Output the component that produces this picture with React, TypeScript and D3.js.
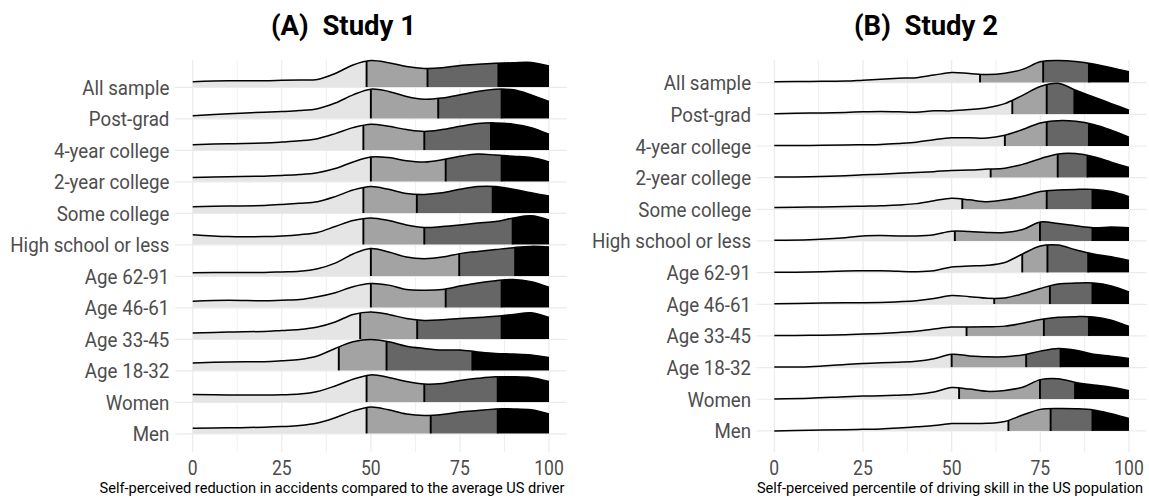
import React from 'react';
import * as d3 from 'd3';

// rows, top to bottom
const categories = [
    'All sample', 'Post-grad', '4-year college', '2-year college', 'Some college', 'High school or less',
    'Age 62-91', 'Age 46-61', 'Age 33-45', 'Age 18-32', 'Women', 'Men',
];

// x positions at which the ridge heights were read
const xGrid = [0, 10, 20, 25, 30, 35, 40, 45, 50, 55, 60, 65, 70, 75, 80, 85, 90, 95, 100];
const xTicks = [0, 25, 50, 75, 100];
const xMinor = [12.5, 37.5, 62.5, 87.5];

// ridge heights (1 = one row step)
const study1Density: number[][] = [
    [0.18, 0.21, 0.21, 0.22, 0.23, 0.25, 0.44, 0.71, 0.85, 0.78, 0.66, 0.60, 0.62, 0.69, 0.73, 0.76, 0.78, 0.79, 0.68],
    [0.10, 0.16, 0.21, 0.23, 0.26, 0.32, 0.50, 0.76, 0.94, 0.87, 0.71, 0.62, 0.66, 0.76, 0.87, 0.94, 0.92, 0.76, 0.55],
    [0.18, 0.21, 0.23, 0.26, 0.30, 0.37, 0.53, 0.72, 0.83, 0.76, 0.66, 0.60, 0.66, 0.76, 0.85, 0.87, 0.83, 0.72, 0.51],
    [0.14, 0.16, 0.18, 0.20, 0.23, 0.29, 0.42, 0.63, 0.79, 0.77, 0.67, 0.63, 0.70, 0.81, 0.88, 0.85, 0.81, 0.77, 0.63],
    [0.21, 0.23, 0.25, 0.28, 0.32, 0.37, 0.53, 0.74, 0.85, 0.76, 0.63, 0.60, 0.65, 0.76, 0.85, 0.85, 0.76, 0.65, 0.55],
    [0.32, 0.26, 0.26, 0.28, 0.32, 0.39, 0.58, 0.77, 0.85, 0.77, 0.63, 0.55, 0.58, 0.63, 0.69, 0.74, 0.85, 0.92, 0.79],
    [0.11, 0.12, 0.12, 0.14, 0.16, 0.24, 0.42, 0.71, 0.88, 0.77, 0.61, 0.56, 0.61, 0.72, 0.79, 0.85, 0.91, 0.95, 0.93],
    [0.21, 0.24, 0.22, 0.24, 0.26, 0.35, 0.48, 0.67, 0.77, 0.72, 0.58, 0.56, 0.58, 0.69, 0.79, 0.86, 0.90, 0.83, 0.65],
    [0.20, 0.23, 0.25, 0.28, 0.31, 0.39, 0.55, 0.79, 0.87, 0.79, 0.66, 0.60, 0.62, 0.66, 0.69, 0.73, 0.79, 0.84, 0.69],
    [0.25, 0.28, 0.29, 0.32, 0.36, 0.47, 0.71, 0.92, 0.99, 0.92, 0.78, 0.71, 0.66, 0.66, 0.60, 0.55, 0.53, 0.50, 0.42],
    [0.25, 0.23, 0.23, 0.24, 0.26, 0.34, 0.52, 0.73, 0.87, 0.79, 0.66, 0.58, 0.60, 0.69, 0.76, 0.81, 0.81, 0.78, 0.66],
    [0.18, 0.19, 0.21, 0.23, 0.26, 0.34, 0.51, 0.72, 0.85, 0.76, 0.63, 0.58, 0.61, 0.69, 0.74, 0.79, 0.79, 0.76, 0.63],
];

const study1Quartiles: number[][] = [
    [48.8, 65.9, 85.8],
    [50.0, 68.9, 86.7],
    [47.9, 65.0, 83.7],
    [50.0, 71.0, 86.7],
    [47.9, 62.9, 84.2],
    [47.9, 65.0, 89.8],
    [50.0, 74.8, 90.5],
    [50.0, 71.0, 86.7],
    [47.0, 63.0, 86.7],
    [41.0, 54.4, 78.5],
    [48.8, 65.0, 85.6],
    [48.8, 66.8, 85.6],
];

const study2Density: number[][] = [
    [0.03, 0.04, 0.05, 0.08, 0.11, 0.14, 0.16, 0.24, 0.32, 0.29, 0.26, 0.30, 0.42, 0.66, 0.70, 0.67, 0.59, 0.47, 0.35],
    [0.02, 0.04, 0.06, 0.08, 0.09, 0.08, 0.07, 0.11, 0.11, 0.15, 0.21, 0.34, 0.60, 0.88, 0.98, 0.76, 0.55, 0.34, 0.13],
    [0.02, 0.02, 0.03, 0.04, 0.05, 0.08, 0.12, 0.20, 0.26, 0.26, 0.25, 0.34, 0.52, 0.73, 0.80, 0.78, 0.68, 0.50, 0.28],
    [0.02, 0.03, 0.06, 0.09, 0.11, 0.14, 0.16, 0.19, 0.23, 0.24, 0.27, 0.30, 0.42, 0.60, 0.75, 0.76, 0.66, 0.49, 0.32],
    [0.06, 0.07, 0.09, 0.10, 0.11, 0.14, 0.18, 0.27, 0.35, 0.30, 0.24, 0.30, 0.41, 0.56, 0.61, 0.63, 0.63, 0.56, 0.40],
    [0.02, 0.04, 0.10, 0.16, 0.17, 0.16, 0.16, 0.20, 0.31, 0.30, 0.27, 0.27, 0.36, 0.60, 0.55, 0.48, 0.42, 0.44, 0.42],
    [0.01, 0.02, 0.05, 0.06, 0.06, 0.04, 0.03, 0.06, 0.18, 0.21, 0.23, 0.32, 0.59, 0.84, 0.87, 0.72, 0.59, 0.50, 0.38],
    [0.02, 0.03, 0.05, 0.05, 0.06, 0.08, 0.11, 0.18, 0.28, 0.24, 0.19, 0.20, 0.33, 0.50, 0.64, 0.67, 0.67, 0.58, 0.39],
    [0.01, 0.02, 0.04, 0.06, 0.08, 0.11, 0.15, 0.22, 0.28, 0.28, 0.29, 0.31, 0.40, 0.52, 0.59, 0.61, 0.60, 0.50, 0.30],
    [0.02, 0.03, 0.10, 0.13, 0.15, 0.17, 0.20, 0.28, 0.42, 0.37, 0.34, 0.34, 0.40, 0.52, 0.60, 0.55, 0.42, 0.36, 0.29],
    [0.01, 0.03, 0.08, 0.10, 0.11, 0.13, 0.16, 0.23, 0.37, 0.32, 0.25, 0.28, 0.38, 0.62, 0.65, 0.53, 0.45, 0.38, 0.27],
    [0.00, 0.02, 0.04, 0.05, 0.06, 0.09, 0.13, 0.17, 0.23, 0.23, 0.24, 0.30, 0.50, 0.68, 0.71, 0.70, 0.66, 0.54, 0.39],
];

const study2Quartiles: number[][] = [
    [58.0, 75.8, 88.7],
    [67.1, 76.8, 84.6],
    [65.0, 76.8, 88.7],
    [61.0, 79.9, 88.3],
    [53.0, 76.8, 89.7],
    [50.9, 74.9, 89.7],
    [69.9, 77.0, 88.5],
    [62.0, 77.7, 89.7],
    [54.2, 76.0, 88.7],
    [50.0, 71.0, 80.7],
    [52.1, 74.9, 84.8],
    [66.0, 77.9, 89.7],
];

const quartileFills = ['#e5e5e5', '#a3a3a3', '#666666', '#000000'];
const gridColor = '#ebebeb';
const textColor = '#4d4d4d';
const font = 'Roboto, sans-serif';

interface PanelProps {
    id: string;
    title: string;
    xLabel: string;
    density: number[][];
    quartiles: number[][];
    xRange: [number, number];
    yRange: [number, number];
    titleX: number;
    xLabelX: number;
}

interface LabelProps {
    x: number;
    y: number;
    anchor: string;
    size: number;
    fill: string;
    squeeze: number; // horizontal scale, stands in for the condensed face
    weight?: number;
    children: React.ReactNode;
}

const Label: React.FC<LabelProps> = ({ x, y, anchor, size, fill, squeeze, weight = 400, children }) => (
    <text transform={`translate(${x},${y}) scale(${squeeze},1)`} textAnchor={anchor}
        fontFamily={font} fontSize={size} fontWeight={weight} fill={fill} style={{ whiteSpace: 'pre' }}>
        {children}
    </text>
);

const Panel: React.FC<PanelProps> = ({ id, title, xLabel, density, quartiles, xRange, yRange, titleX, xLabelX }) => {
    const x = d3.scaleLinear().domain([0, 100]).range(xRange);
    const y = d3.scalePoint<string>().domain(categories).range(yRange);
    const step = y.step();
    const h = d3.scaleLinear().domain([0, 1]).range([0, step]);

    const panelLeft = x(-5);
    const panelRight = x(105);
    const panelTop = 60;
    const panelBottom = 452;

    const area = d3.area<number>()
        .x((d, i) => x(xGrid[i]))
        .y0(0)
        .y1(d => -h(d))
        .curve(d3.curveCatmullRom.alpha(0.5));
    const line = d3.line<number>()
        .x((d, i) => x(xGrid[i]))
        .y(d => -h(d))
        .curve(d3.curveCatmullRom.alpha(0.5));

    return (
        <g>
            {/* grid */}
            {xMinor.map(v => (
                <line key={`mn${v}`} x1={x(v)} x2={x(v)} y1={panelTop} y2={panelBottom} stroke={gridColor} strokeWidth={0.8} />
            ))}
            {xTicks.map(v => (
                <line key={`mj${v}`} x1={x(v)} x2={x(v)} y1={panelTop} y2={panelBottom} stroke={gridColor} strokeWidth={1.2} />
            ))}
            {categories.map(c => (
                <line key={`h${c}`} x1={panelLeft} x2={panelRight} y1={y(c)} y2={y(c)} stroke={gridColor} strokeWidth={1.2} />
            ))}

            {/* ridges */}
            {categories.map((c, r) => {
                const cuts = [0, ...quartiles[r], 100];
                const clipId = `${id}-clip-${r}`;
                return (
                    <g key={c} transform={`translate(0,${y(c)})`}>
                        <clipPath id={clipId}>
                            <path d={area(density[r]) ?? ''} />
                        </clipPath>
                        <g clipPath={`url(#${clipId})`}>
                            {quartileFills.map((f, k) => (
                                <rect key={k} x={x(cuts[k])} width={x(cuts[k + 1]) - x(cuts[k])}
                                    y={-step * 1.5} height={step * 1.5} fill={f} />
                            ))}
                            {quartiles[r].map((q, k) => (
                                <line key={k} x1={x(q)} x2={x(q)} y1={0} y2={-step * 1.5} stroke="#000" strokeWidth={1.9} />
                            ))}
                        </g>
                        <path d={line(density[r]) ?? ''} fill="none" stroke="#000" strokeWidth={1.5} />
                    </g>
                );
            })}

            {/* y labels */}
            {categories.map(c => (
                <Label key={`l${c}`} x={panelLeft - 5.5} y={(y(c) ?? 0) + 7.5} anchor="end" size={19.5} squeeze={0.96} fill={textColor}>{c}</Label>
            ))}

            {/* x ticks */}
            {xTicks.map(v => (
                <Label key={`t${v}`} x={x(v)} y={474.5} anchor="middle" size={19.5} squeeze={0.9} fill={textColor}>{v}</Label>
            ))}

            <Label x={xLabelX} y={492.5} anchor="middle" size={14.6} squeeze={1} fill="#000">{xLabel}</Label>
            <Label x={titleX} y={34.5} anchor="middle" size={27.5} squeeze={1} fill="#000" weight={700}>{title}</Label>
        </g>
    );
};

export default function App() {
    return (
        <svg width={1149} height={499} style={{ position: 'absolute', left: 0, top: 0, background: '#fff' }}>
            <Panel id="s1" title="(A)  Study 1"
                xLabel="Self-perceived reduction in accidents compared to the average US driver"
                density={study1Density} quartiles={study1Quartiles}
                xRange={[192.7, 549]} yRange={[87.3, 433.8]} titleX={343.5} xLabelX={332} />
            <Panel id="s2" title="(B)  Study 2"
                xLabel="Self-perceived percentile of driving skill in the US population"
                density={study2Density} quartiles={study2Quartiles}
                xRange={[774.3, 1129]} yRange={[82.7, 430.9]} titleX={926} xLabelX={950} />
        </svg>
    );
}
